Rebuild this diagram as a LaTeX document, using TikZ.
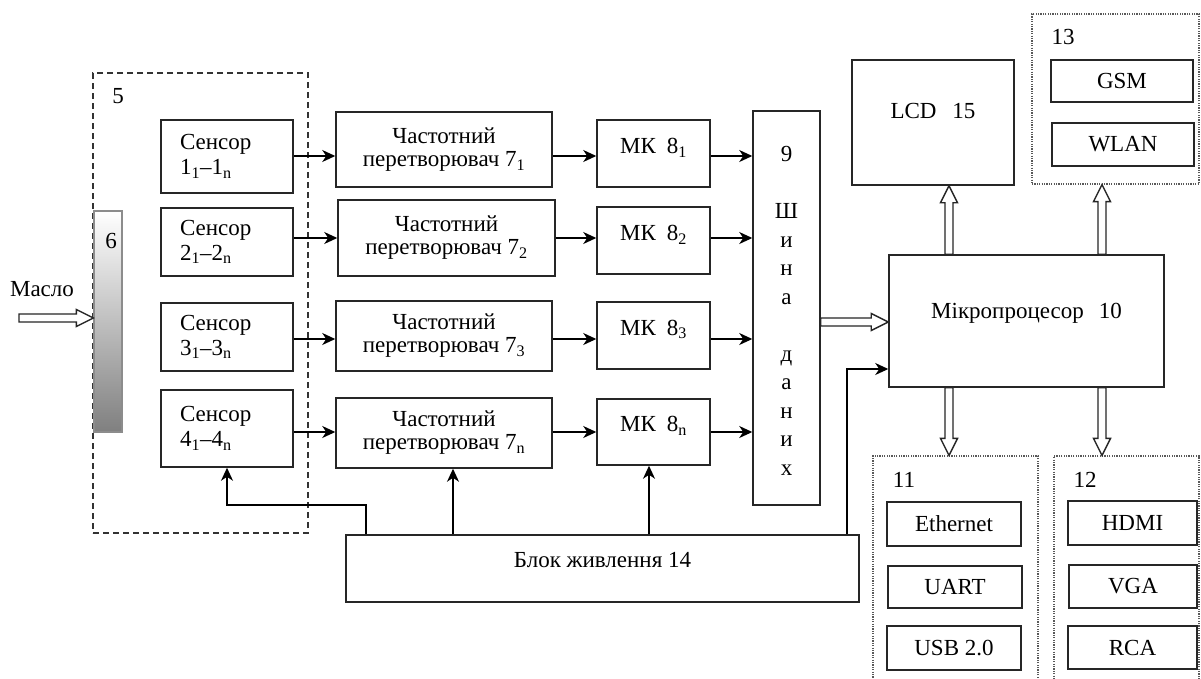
\documentclass[tikz,border=0pt]{standalone}
\usepackage{fontspec}
\setmainfont{Liberation Serif}
\usetikzlibrary{arrows.meta,calc}
\newcommand\upby[2]{\raisebox{#1}[\height][\depth]{#2}}
\newcommand\hollowarrow[2]{%
  \coordinate (hb) at ($(#2)!17pt!(#1)$);
  \draw[hollow] ($(#1)!4pt!90:(#2)$) -- ($(hb)!4pt!90:(#2)$) -- ($(hb)!8.5pt!90:(#2)$) -- (#2)
    -- ($(hb)!8.5pt!-90:(#2)$) -- ($(hb)!4pt!-90:(#2)$) -- ($(#1)!4pt!-90:(#2)$) -- cycle;}
\tikzset{
  txt/.style={font=\fontsize{23}{27}\selectfont, text=black},
  box/.style={txt, draw=black!85, line width=1.5pt, inner sep=0pt, align=center},
  sens/.style={box, align=left, text width=94pt, inner xsep=19pt, font=\fontsize{23}{25}\selectfont},
  conv/.style={box, font=\fontsize{23}{23}\selectfont},
  grp/.style={draw=black!65, line width=1.2pt, dash pattern=on 1.2pt off 1.2pt, inner sep=0pt},
  grp5/.style={draw=black!80, line width=1.4pt, dash pattern=on 6pt off 4pt, inner sep=0pt},
  lbl/.style={txt, inner sep=0pt},
  arr/.style={draw=black, line width=1.4pt, -{Stealth[length=13pt,width=12pt,inset=4pt]}},
  hollow/.style={draw=black!85, line width=1.4pt, fill=white, line join=miter},
  sz/.style 2 args={minimum width=#1pt, minimum height=#2pt}
}
\begin{document}
\begin{tikzpicture}[x=1pt,y=-1pt]
\clip (0,0) rectangle (1201,678);
\fill[white] (0,0) rectangle (1201,678);

% groups
\node[grp5, sz={215}{460}] (g5) at (200.5,303) {};
\node[grp, sz={167}{170}] (g13) at (1115.5,99) {};
\node[grp, sz={165}{244}] (g11) at (955.5,578) {};
\node[grp, sz={145}{244}] (g12) at (1126.5,578) {};
\node[lbl] (l5) at (118,96) {5};
\node[lbl] (l13) at (1063,37) {13};
\node[lbl] (l11) at (904,480) {11};
\node[lbl] (l12) at (1085,480) {12};

% bar 6
\node[draw=black!45, line width=1.2pt, top color=white, bottom color=black!50, sz={28}{221}, inner sep=0pt] (bar) at (108,321.5) {};
\node[lbl] (l6) at (111,241) {6};
\node[lbl] (oil) at (42,289) {Масло};

% sensors
\node[sens, sz={132}{73}] (s1) at (227,156.5) {Сенсор\\1\textsubscript{1}–1\textsubscript{n}};
\node[sens, sz={132}{68}] (s2) at (227,242) {Сенсор\\2\textsubscript{1}–2\textsubscript{n}};
\node[sens, sz={132}{68}] (s3) at (227,337) {Сенсор\\3\textsubscript{1}–3\textsubscript{n}};
\node[sens, sz={132}{77}] (s4) at (227,428.5) {Сенсор\\4\textsubscript{1}–4\textsubscript{n}};

% converters
\node[conv, sz={216}{75}] (f1) at (444,149.5) {Частотний\\перетворювач 7\textsubscript{1}};
\node[conv, sz={217}{76}] (f2) at (446.5,238) {Частотний\\перетворювач 7\textsubscript{2}};
\node[conv, sz={216}{70}] (f3) at (444,336) {Частотний\\перетворювач 7\textsubscript{3}};
\node[conv, sz={216}{70}] (f4) at (444,433) {Частотний\\перетворювач 7\textsubscript{n}};

% MK
\node[box, sz={113}{67}] (m1) at (653.5,153.5) {\upby{6pt}{МК\hspace{11pt}8\textsubscript{1}}};
\node[box, sz={113}{67}] (m2) at (653.5,240.5) {\upby{6pt}{МК\hspace{11pt}8\textsubscript{2}}};
\node[box, sz={113}{67}] (m3) at (653.5,335.5) {\upby{6pt}{МК\hspace{11pt}8\textsubscript{3}}};
\node[box, sz={113}{66}] (m4) at (653.5,432) {\upby{6pt}{МК\hspace{11pt}8\textsubscript{n}}};

% bus
\node[box, sz={67}{394}, font=\fontsize{23}{28.5}\selectfont] (bus) at (786.5,308)
  {\upby{-5pt}{\begin{tabular}{@{}c@{}}9\\ \\Ш\\и\\н\\а\\ \\д\\а\\н\\и\\х\end{tabular}}};

% right side
\node[box, sz={162}{125}] (lcd) at (933,122.5) {\upby{12pt}{LCD\hspace{16pt}15}};
\node[box, sz={275}{132}] (mp) at (1026.5,321) {\upby{8pt}{Мікропроцесор\hspace{15pt}10}};
\node[box, sz={142}{42}] (gsm) at (1122,81) {GSM};
\node[box, sz={142}{43}] (wlan) at (1123,144.5) {WLAN};
\node[box, sz={134}{44}] (eth) at (954,524) {Ethernet};
\node[box, sz={134}{42}] (uart) at (955,587) {UART};
\node[box, sz={134}{44}] (usb) at (954,648) {USB 2.0};
\node[box, sz={129}{44}] (hdmi) at (1132.5,523) {HDMI};
\node[box, sz={128}{43}] (vga) at (1133,586.5) {VGA};
\node[box, sz={129}{43}] (rca) at (1132.5,647.5) {RCA};

% power
\node[box, sz={513}{67}] (pw) at (602.5,568.5) {\upby{8pt}{Блок живлення 14}};

% signal rows
\coordinate (r1) at (0,156);
\coordinate (r2) at (0,238);
\coordinate (r3) at (0,339);
\coordinate (r4) at (0,432);
\foreach \i in {1,2,3,4}{
  \draw[arr] (s\i.east |- r\i) -- (f\i.west |- r\i);
  \draw[arr] (f\i.east |- r\i) -- (m\i.west |- r\i);
  \draw[arr] (m\i.east |- r\i) -- (bus.west |- r\i);
}

% power lines
\coordinate (px1) at (366,0);
\coordinate (px2) at (453,0);
\coordinate (px3) at (649,0);
\coordinate (px4) at (847,0);
\coordinate (py1) at (0,505);
\coordinate (py2) at (0,369);
\draw[arr] (pw.north -| px1) -- (px1 |- py1) -- (s4.south |- py1) -- (s4.south);
\draw[arr] (pw.north -| px2) -- (f4.south -| px2);
\draw[arr] (pw.north -| px3) -- (m4.south -| px3);
\draw[arr] (pw.north -| px4) -- (px4 |- py2) -- (mp.west |- py2);

% hollow arrows
\coordinate (oilS) at (19,318);
\coordinate (oilE) at (bar.west |- oilS);
\hollowarrow{oilS}{oilE}
\coordinate (yb) at (0,322);
\coordinate (bmS) at (bus.east |- yb);
\coordinate (bmE) at (mp.west |- yb);
\hollowarrow{bmS}{bmE}
\coordinate (xa) at (949,0);
\coordinate (xb) at (1102,0);
\coordinate (a1) at (mp.north -| xa);
\coordinate (a2) at (lcd.south -| xa);
\hollowarrow{a1}{a2}
\coordinate (b1) at (mp.north -| xb);
\coordinate (b2) at (g13.south -| xb);
\hollowarrow{b1}{b2}
\coordinate (c1) at (mp.south -| xa);
\coordinate (c2) at (g11.north -| xa);
\hollowarrow{c1}{c2}
\coordinate (d1) at (mp.south -| xb);
\coordinate (d2) at (g12.north -| xb);
\hollowarrow{d1}{d2}
\end{tikzpicture}
\end{document}
